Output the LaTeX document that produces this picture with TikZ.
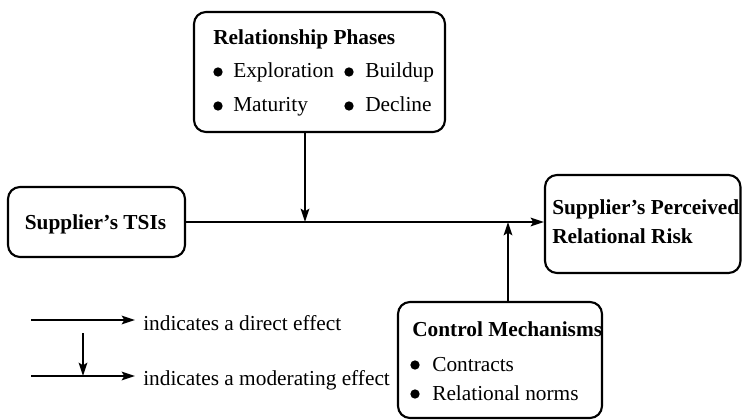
\documentclass[tikz,border=0pt]{standalone}
\usepackage{fontspec}
\setmainfont{Liberation Serif}
\usetikzlibrary{arrows.meta}
\begin{document}
\begin{tikzpicture}[x=0.75pt,y=-0.75pt,
  box/.style={draw,line width=1.6pt,rounded corners=9pt,inner sep=0pt},
  arr/.style={line width=1.3pt,-{Stealth[length=10pt,width=6.5pt,inset=2pt]}},
  txt/.style={anchor=base west,inner sep=0pt,font=\fontsize{16}{19}\selectfont},
  btxt/.style={txt,font=\fontsize{16}{19}\selectfont\bfseries},
  dot/.style={circle,fill=black,inner sep=0pt,minimum size=7pt}]
\useasboundingbox (0,0) rectangle (742,420);
% boxes
\node[box,minimum width=188.25pt,minimum height=90pt] (rp) at (319.5,72) {};
\node[box,minimum width=132.75pt,minimum height=52.5pt] (tsi) at (96.5,222) {};
\node[box,minimum width=146.6pt,minimum height=73.5pt] (risk) at (642.75,224) {};
\node[box,minimum width=153pt,minimum height=87pt] (cm) at (500,360) {};
% relationship phases text
\node[btxt] (rpt) at (213,45) {Relationship Phases};
\node[dot] (b1) at (218,72) {};
\node[txt] (t1) at (233,78) {Exploration};
\node[dot] (b2) at (349,72) {};
\node[txt] (t2) at (365,78) {Buildup};
\node[dot] (b3) at (218,106) {};
\node[txt] (t3) at (233,112) {Maturity};
\node[dot] (b4) at (349,106) {};
\node[txt] (t4) at (365,112) {Decline};
% TSIs
\node[btxt,anchor=base] (tsit) at (95.5,230) {Supplier’s TSIs};
% risk
\node[btxt] (r1) at (552,215) {Supplier’s Perceived};
\node[btxt] (r2) at (552,244) {Relational Risk};
% control mechanisms
\node[btxt] (cmt) at (412,336) {Control Mechanisms};
\node[dot] (c1b) at (415,365) {};
\node[txt] (c1) at (432,371) {Contracts};
\node[dot] (c2b) at (415,394) {};
\node[txt] (c2) at (432,400) {Relational norms};
% connectors
\coordinate (m1) at (305,222);
\coordinate (m2) at (508,222);
\draw[arr] (tsi.east) -- (tsi.east -| risk.west);
\draw[arr] (rp.south -| m1) -- (m1);
\draw[arr] (cm.north -| m2) -- (m2);
% legend
\coordinate (l1s) at (31,320);
\coordinate (l1e) at (135,320);
\coordinate (l2s) at (31,376);
\coordinate (l2e) at (135,376);
\coordinate (l3s) at (83,333);
\coordinate (l3e) at (83,376);
\draw[arr] (l1s) -- (l1e);
\draw[arr] (l2s) -- (l2e);
\draw[arr] (l3s) -- (l3e);
\node[txt] (lt1) at (143,330) {indicates a direct effect};
\node[txt] (lt2) at (143,385) {indicates a moderating effect};
\end{tikzpicture}
\end{document}
